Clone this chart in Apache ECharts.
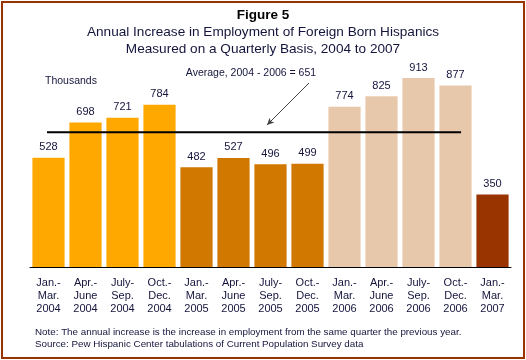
<!DOCTYPE html>
<html><head><meta charset="utf-8">
<script src="https://cdn.jsdelivr.net/npm/echarts@6/dist/echarts.min.js"></script>
<style>html,body{margin:0;padding:0;background:#fff}#c{width:526px;height:360px}</style>
</head><body><div id="c"></div>
<script>
const categories = ['Jan.-\nMar.\n2004','Apr.-\nJune\n2004','July-\nSep.\n2004','Oct.-\nDec.\n2004',
  'Jan.-\nMar.\n2005','Apr.-\nJune\n2005','July-\nSep.\n2005','Oct.-\nDec.\n2005',
  'Jan.-\nMar.\n2006','Apr.-\nJune\n2006','July-\nSep.\n2006','Oct.-\nDec.\n2006','Jan.-\nMar.\n2007'];
const values = [528,698,721,784,482,527,496,499,774,825,913,877,350];
const yearGroup = [2004,2004,2004,2004,2005,2005,2005,2005,2006,2006,2006,2006,2007];
const yearColors = {2004:'#FFA800',2005:'#D07800',2006:'#E8C8AA',2007:'#993300'};
const average = 651;
const averageSpan = [-0.04, 11.15]; // average line extent, in category-index units
const FONT = '"Liberation Sans", Arial, sans-serif';
const TXT = '#14143c';

const chart = echarts.init(document.getElementById('c'));
chart.setOption({
  animation:false,
  textStyle:{fontFamily:FONT},
  title:[
    {text:'Figure 5',left:'center',top:8,padding:0,textStyle:{fontFamily:FONT,fontSize:13.5,fontWeight:'bold',color:'#000'}},
    {text:'Annual Increase in Employment of Foreign Born Hispanics\nMeasured on a Quarterly Basis, 2004 to 2007',left:'center',top:24,padding:0,
     textStyle:{fontFamily:FONT,fontSize:13.6,fontWeight:'normal',color:TXT,lineHeight:16.5}},
    {text:'Note: The annual increase is the increase in employment from the same quarter the previous year.\nSource: Pew Hispanic Center tabulations of Current Population Survey data',
     left:35,top:326,padding:0,textStyle:{fontFamily:FONT,fontSize:9.8,fontWeight:'normal',color:TXT,lineHeight:12}}
  ],
  grid:{left:30,right:15,top:60,bottom:93},
  xAxis:[
    {type:'category',data:categories,
    axisLine:{lineStyle:{color:'#000',width:1}},
    axisTick:{length:5,lineStyle:{color:'#000'}},
    axisLabel:{fontSize:11,lineHeight:13,color:TXT,margin:9,interval:0}},
    {type:'value',min:-0.5,max:categories.length-0.5,show:false,splitLine:{show:false}}
  ],
  yAxis:{type:'value',min:0,max:1000,show:false,splitLine:{show:false}},
  series:[{
    type:'bar',barCategoryGap:'13%',
    data:values.map((v,i)=>({value:v,itemStyle:{color:yearColors[yearGroup[i]]}})),
    label:{show:true,position:'top',distance:5,fontSize:11,color:TXT,fontFamily:FONT},
    markLine:{silent:true,symbol:'none',label:{show:false},
      data:[
        [{x:309,y:83,symbol:'none',lineStyle:{color:'#444',width:1,type:'solid'}},{x:267,y:125,symbol:'arrow',symbolSize:[5,7]}]
      ]}
  },{
    type:'line',xAxisIndex:1,symbol:'none',silent:true,z:3,
    data:averageSpan.map(x=>[x,average]),
    lineStyle:{color:'#000',width:2}
  }],
  graphic:[
    {type:'rect',shape:{x:2,y:2,width:522,height:356},style:{fill:null,stroke:'#993300',lineWidth:2},silent:true},
    {type:'text',x:251,y:73,style:{text:'Average, 2004 - 2006 = '+average,fontFamily:FONT,fontSize:10.5,fill:TXT,align:'center',verticalAlign:'middle'}},
    {type:'text',x:45,y:81,style:{text:'Thousands',fontFamily:FONT,fontSize:10.5,fill:TXT,align:'left',verticalAlign:'middle'}}
  ]
});
</script></body></html>
